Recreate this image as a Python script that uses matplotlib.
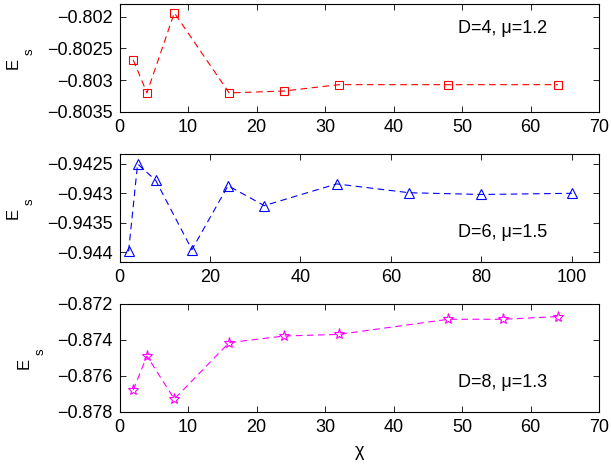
import matplotlib
matplotlib.use('Agg')
import matplotlib.pyplot as plt
from matplotlib.ticker import FuncFormatter

plt.rcParams['font.family'] = ['Liberation Sans', 'DejaVu Sans']
plt.rcParams['font.size'] = 13
plt.rcParams['xtick.direction'] = 'in'
plt.rcParams['ytick.direction'] = 'in'
plt.rcParams['xtick.top'] = True
plt.rcParams['ytick.right'] = True

# D=4, mu=1.2
chi_1 = [2, 4, 8, 16, 24, 32, 48, 64]
es_1 = [-0.80268, -0.80320, -0.80194, -0.80320, -0.80317, -0.80307, -0.80307, -0.80307]

# D=6, mu=1.5
chi_2 = [2, 4, 8, 16, 24, 32, 48, 64, 80, 100]
es_2 = [-0.94399, -0.94250, -0.94278, -0.94396, -0.94287, -0.94321, -0.94284, -0.94299, -0.94302, -0.94300]

# D=8, mu=1.3
chi_3 = [2, 4, 8, 16, 24, 32, 48, 56, 64]
es_3 = [-0.87678, -0.87489, -0.87728, -0.87415, -0.87378, -0.87369, -0.87285, -0.87285, -0.87270]

labels = ['D=4, \u03bc=1.2', 'D=6, \u03bc=1.5', 'D=8, \u03bc=1.3']


def fmt(v, pos):
    return ('%g' % v).replace('-', '\u2212')


def es_label(ax, x0):
    # E with a deeply lowered subscript s, placed by hand
    ax.text(x0, 0.454, 'E', transform=ax.transAxes, rotation=90,
            fontsize=12, ha='center', va='center')
    ax.text(x0 + 0.0352, 0.56, 's', transform=ax.transAxes, rotation=90,
            fontsize=9.5, ha='center', va='center')


fig = plt.figure(figsize=(6.11, 4.68), dpi=100)
ax1 = fig.add_axes([0.1956, 0.7607, 0.7848, 0.2308])
ax2 = fig.add_axes([0.1956, 0.4402, 0.7848, 0.2308])
ax3 = fig.add_axes([0.1956, 0.1197, 0.7848, 0.2308])

ax1.plot(chi_1, es_1, '--', color='red', lw=0.8, dashes=(6, 4),
         marker='s', ms=6, mfc='none', mec='red', mew=0.8)
ax1.set_xlim(0, 70)
ax1.set_ylim(-0.8035, -0.8018)
ax1.set_yticks([-0.8035, -0.803, -0.8025, -0.802])
ax1.text(0.8916, 0.775, labels[0], transform=ax1.transAxes, ha='right', va='center')

ax2.plot(chi_2, es_2, '--', color='blue', lw=0.8, dashes=(6, 4),
         marker='^', ms=7, mfc='none', mec='blue', mew=0.8)
ax2.set_xlim(0, 106)
ax2.set_ylim(-0.94417, -0.94233)
ax2.set_xticks([0, 20, 40, 60, 80, 100])
ax2.set_yticks([-0.944, -0.9435, -0.943, -0.9425])
ax2.text(0.8916, 0.273, labels[1], transform=ax2.transAxes, ha='right', va='center')

ax3.plot(chi_3, es_3, '--', color='magenta', lw=0.8, dashes=(6, 4),
         marker='*', ms=8, mfc='none', mec='magenta', mew=0.8)
ax3.set_xlim(0, 70)
ax3.set_ylim(-0.878, -0.872)
ax3.set_yticks([-0.878, -0.876, -0.874, -0.872])
ax3.text(0.8916, 0.27, labels[2], transform=ax3.transAxes, ha='right', va='center')
ax3.set_xlabel('\u03c7', labelpad=5)

for ax in (ax1, ax2, ax3):
    ax.yaxis.set_major_formatter(FuncFormatter(fmt))
    ax.tick_params(length=4, width=0.6, pad=5)
    for sp in ax.spines.values():
        sp.set_linewidth(0.8)

es_label(ax1, -0.2225)
es_label(ax2, -0.2225)
es_label(ax3, -0.1988)

fig.savefig('out.png', dpi=100)
